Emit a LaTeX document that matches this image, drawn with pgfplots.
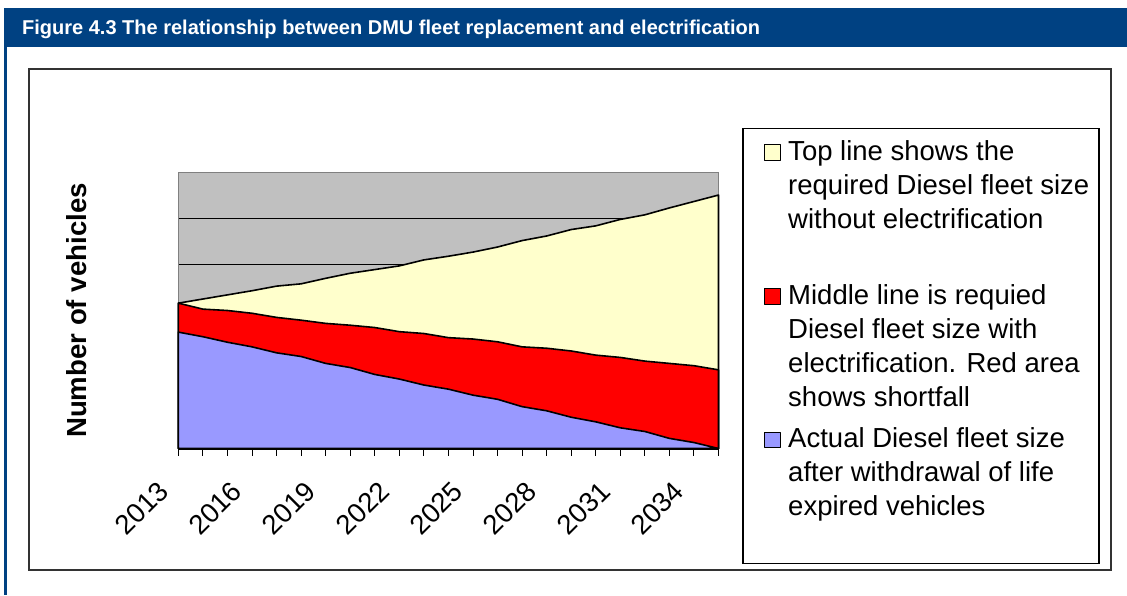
\documentclass[border=0pt]{standalone}
\usepackage{fontspec}
\setmainfont{Liberation Sans}
\usepackage{pgfplots}
\pgfplotsset{compat=1.18}
\usepackage{pgfplotstable}

\definecolor{hdrblue}{RGB}{0,65,130}
\definecolor{plotgray}{RGB}{192,192,192}
\definecolor{topfill}{RGB}{255,255,204}
\definecolor{midfill}{RGB}{255,0,0}
\definecolor{lowfill}{RGB}{153,153,255}

% DMU fleet sizes per year (index 0 = 2013)
% top: required without electrification, mid: required with electrification,
% low: actual fleet after withdrawals
\pgfplotstableread{
idx top  mid  low
0   1580 1580 1265
1   1625 1515 1215
2   1670 1500 1155
3   1715 1470 1105
4   1765 1425 1040
5   1790 1395 1000
6   1850 1360  925
7   1905 1340  880
8   1945 1315  805
9   1985 1270  755
10  2050 1250  690
11  2090 1205  645
12  2135 1190  580
13  2190 1160  535
14  2260 1105  455
15  2310 1090  410
16  2380 1060  340
17  2420 1015  290
18  2490  990  225
19  2540  950  185
20  2615  925  110
21  2685  900   65
22  2755  855    0
}\fleet

% one legend text line of fixed width
\newcommand{\legline}[1]{\makebox[290pt][l]{#1}}
\tikzset{
  legrow/.style={text height=26pt, text depth=8pt, inner sep=0pt},
  leggap/.style={text height=#1, text depth=0pt, inner sep=0pt},
}

\begin{document}
\begin{tikzpicture}
% page, header band and frames
\fill[white] (0pt,0pt) rectangle (1127pt,-595pt);
\fill[hdrblue] (4pt,-8pt) rectangle (1127pt,-47pt);
\fill[hdrblue] (4pt,-47pt) rectangle (7pt,-595pt);
\node[anchor=base west, inner sep=0pt, text=white,
      font=\bfseries\fontsize{20}{24}\selectfont] at (22pt,-34.3pt)
  {Figure 4.3 The relationship between DMU fleet replacement and electrification};
\draw[line width=2pt, black!80] (29pt,-69pt) rectangle (1111pt,-570pt);

\begin{axis}[
  at={(178.4pt,-448.5pt)}, anchor=south west,
  scale only axis, width=540.1pt, height=276pt,
  xmin=0, xmax=22, ymin=0, ymax=3000,
  clip=false,
  axis background/.style={fill=plotgray},
  axis line style={draw=black!50, line width=1pt},
  ytick={500,1000,...,2500}, yticklabels={}, ytick style={draw=none},
  ymajorgrids, grid style={black, line width=0.8pt},
  xtick={0,3,...,21},
  xticklabels={2013,2016,2019,2022,2025,2028,2031,2034},
  minor xtick={0,...,22},
  xtick pos=lower, tick align=outside,
  major tick length=7pt, minor tick length=7pt,
  xtick style={black, line width=1pt},
  minor x tick style={black, line width=1pt},
  xticklabel style={xshift=-15pt, yshift=-31pt, rotate=45, anchor=east,
    inner sep=0pt, font=\fontsize{27.5}{30}\selectfont},
  ylabel={Number of vehicles},
  every axis y label/.style={at={(axis description cs:-0.1883,0.5)},
    rotate=90, anchor=center, font=\bfseries\fontsize{27.6}{30}\selectfont},
  legend image code/.code={
    \draw[#1, line width=1.2pt] (0pt,0pt) rectangle (15.5pt,15.5pt);},
  legend style={at={(axis description cs:1.0444,1.1623)}, anchor=north west,
    draw=black, line width=1.5pt, fill=white,
    inner xsep=20.8pt, inner ysep=5.8pt, row sep=0pt, column sep=7.5pt,
    font=\fontsize{27.5}{34}\selectfont,
    cells={anchor=base west, inner sep=0pt}},
]
\addplot[draw=black, line width=1.6pt, line join=round, fill=topfill]
  table[x=idx, y=top] {\fleet} \closedcycle;
\addlegendentry[legrow]{\legline{Top line shows the}}
\addlegendimage{empty legend}\addlegendentry[legrow]{\legline{required Diesel fleet size}}
\addlegendimage{empty legend}\addlegendentry[legrow]{\legline{without electrification}}
\addlegendimage{empty legend}\addlegendentry[leggap=42pt]{}

\addplot[draw=black, line width=1.6pt, line join=round, fill=midfill]
  table[x=idx, y=mid] {\fleet} \closedcycle;
\addlegendentry[legrow]{\legline{Middle line is requied}}
\addlegendimage{empty legend}\addlegendentry[legrow]{\legline{Diesel fleet size with}}
\addlegendimage{empty legend}\addlegendentry[legrow]{\legline{electrification. Red area}}
\addlegendimage{empty legend}\addlegendentry[legrow]{\legline{shows shortfall}}
\addlegendimage{empty legend}\addlegendentry[leggap=7.5pt]{}

\addplot[draw=black, line width=1.6pt, line join=round, fill=lowfill]
  table[x=idx, y=low] {\fleet} \closedcycle;
\addlegendentry[legrow]{\legline{Actual Diesel fleet size}}
\addlegendimage{empty legend}\addlegendentry[legrow]{\legline{after withdrawal of life}}
\addlegendimage{empty legend}\addlegendentry[legrow]{\legline{expired vehicles}}
\addlegendimage{empty legend}\addlegendentry[leggap=34pt]{}

% category axis line
\draw[black, line width=2pt] (axis cs:0,0) -- (axis cs:22,0);
\end{axis}
\end{tikzpicture}
\end{document}
